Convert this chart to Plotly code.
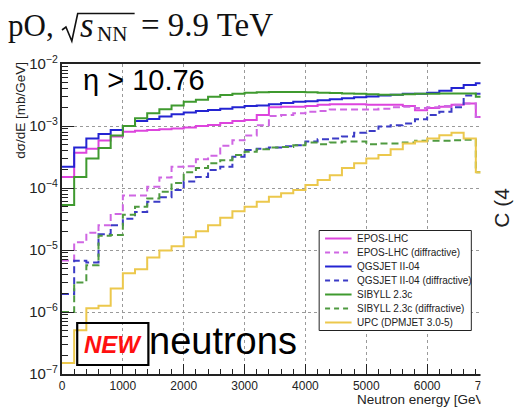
import plotly.graph_objects as go

# Neutron energy binning (GeV), 200 GeV bins
energy_edges = list(range(0, 7001, 200))

# dsigma/dE [mb/GeV] per bin
epos_lhc = [1.5e-4, 3.7e-4, 4.3e-4, 5.85e-4, 6.8e-4, 8.1e-4, 8.4e-4, 8.6e-4, 8.9e-4, 9.1e-4,
            9.5e-4, 1.0e-3, 1.04e-3, 1.12e-3, 1.2e-3, 1.25e-3, 1.5e-3, 2.0e-3, 2.05e-3, 2.05e-3,
            2.1e-3, 2.2e-3, 2.25e-3, 2.25e-3, 2.25e-3, 2.2e-3, 2.2e-3, 2.2e-3, 2.1e-3, 1.8e-3,
            1.95e-3, 2.05e-3, 2.2e-3, 2.3e-3, 1.4e-3]
epos_lhc_diff = [6.8e-6, 1.33e-5, 1.9e-5, 2.5e-5, 3.8e-5, 7.6e-5, 7.6e-5, 1.05e-4, 1.48e-4, 2.2e-4,
                 2.25e-4, 2.9e-4, 3.3e-4, 4.8e-4, 5.9e-4, 7.0e-4, 1.03e-3, 1.45e-3, 1.5e-3, 1.6e-3,
                 1.7e-3, 1.75e-3, 1.85e-3, 1.85e-3, 1.85e-3, 1.85e-3, 1.9e-3, 2.0e-3, 2.05e-3, 1.95e-3,
                 2.0e-3, 2.1e-3, 2.2e-3, 2.3e-3, 1.4e-3]
qgsjet = [2.2e-4, 4.5e-4, 6.3e-4, 7.4e-4, 8.6e-4, 1.0e-3, 1.2e-3, 1.3e-3, 1.42e-3, 1.55e-3,
          1.65e-3, 1.75e-3, 1.82e-3, 1.9e-3, 2.0e-3, 2.1e-3, 2.15e-3, 2.25e-3, 2.35e-3, 2.45e-3,
          2.5e-3, 2.6e-3, 2.7e-3, 2.8e-3, 2.9e-3, 3.0e-3, 3.1e-3, 3.2e-3, 3.3e-3, 3.3e-3,
          3.45e-3, 3.7e-3, 4.1e-3, 4.6e-3, 4.9e-3]
qgsjet_diff = [1.95e-6, 6.7e-6, 6.3e-6, 1.8e-5, 2.5e-5, 3.2e-5, 4.1e-5, 6.0e-5, 7.1e-5, 9.3e-5,
               1.27e-4, 1.5e-4, 1.95e-4, 2.2e-4, 3.2e-4, 4.1e-4, 4.3e-4, 4.5e-4, 4.7e-4, 4.9e-4,
               5.6e-4, 6.1e-4, 6.3e-4, 6.8e-4, 7.8e-4, 8.3e-4, 9.8e-4, 1.03e-3, 1.1e-3, 1.28e-3,
               1.5e-3, 1.7e-3, 2.0e-3, 3.1e-3, 3.3e-3]
sibyll = [5.3e-5, 1.5e-4, 3.0e-4, 4.4e-4, 7.0e-4, 1.0e-3, 1.33e-3, 1.6e-3, 1.86e-3, 2.15e-3,
          2.45e-3, 2.65e-3, 2.95e-3, 3.15e-3, 3.3e-3, 3.45e-3, 3.5e-3, 3.55e-3, 3.55e-3, 3.55e-3,
          3.5e-3, 3.45e-3, 3.4e-3, 3.35e-3, 3.3e-3, 3.25e-3, 3.2e-3, 3.2e-3, 3.25e-3, 3.3e-3,
          3.3e-3, 3.35e-3, 3.35e-3, 3.35e-3, 2.95e-3]
sibyll_diff = [1.0e-6, 3.0e-6, 5.7e-6, 1.7e-5, 1.75e-5, 3.7e-5, 5.0e-5, 6.8e-5, 8.7e-5, 1.2e-4,
               1.8e-4, 2.1e-4, 2.5e-4, 2.8e-4, 3.4e-4, 3.85e-4, 4.2e-4, 4.5e-4, 4.6e-4, 4.9e-4,
               5.4e-4, 5.1e-4, 5.4e-4, 5.6e-4, 5.6e-4, 5.1e-4, 5.2e-4, 5.2e-4, 5.4e-4, 5.8e-4,
               5.8e-4, 5.8e-4, 5.9e-4, 6.0e-4, 1.8e-4]
upc_dpmjet = [1.5e-7, 5.1e-7, 1.15e-6, 1.26e-6, 2.4e-6, 4.2e-6, 4.9e-6, 7.6e-6, 9.8e-6, 1.15e-5,
              1.6e-5, 2.0e-5, 2.5e-5, 3.3e-5, 4.2e-5, 5.0e-5, 6.0e-5, 7.2e-5, 8.2e-5, 9.3e-5,
              1.12e-4, 1.35e-4, 1.6e-4, 2.1e-4, 2.5e-4, 3.0e-4, 3.4e-4, 4.2e-4, 5.2e-4, 5.6e-4,
              6.3e-4, 7.1e-4, 7.8e-4, 6.3e-4, 1.8e-4]

series_names = ["EPOS-LHC", "EPOS-LHC (diffractive)", "QGSJET II-04", "QGSJET II-04 (diffractive)",
                "SIBYLL 2.3c", "SIBYLL 2.3c (diffractive)", "UPC (DPMJET 3.0-5)"]
series_values = [epos_lhc, epos_lhc_diff, qgsjet, qgsjet_diff, sibyll, sibyll_diff, upc_dpmjet]
series_colors = ["#dd44dd", "#cf66e3", "#2424d2", "#3b3bc6", "#3f9a2f", "#4f9a40", "#ecc84c"]
DASHED = "7px,4px"
series_dash = ["solid", DASHED, "solid", DASHED, "solid", DASHED, "solid"]

x_tick_vals = [0, 1000, 2000, 3000, 4000, 5000, 6000, 7000]

W, H = 514, 419
L, R, T, B = 62, 18, 64, 45
PW, PH = W - L - R, H - T - B


def px(x):
    return (x - L) / PW


def py(y):
    return (H - B - y) / PH


fig = go.Figure()
for name, vals, color, dash in zip(series_names, series_values, series_colors, series_dash):
    fig.add_trace(go.Scatter(
        x=energy_edges, y=vals + [vals[-1]], mode="lines", name=name,
        line=dict(color=color, width=2, dash=dash, shape="hv"),
        showlegend=False, hoverinfo="skip"))

FONT = "Liberation Sans, Arial, sans-serif"
SERIF = "Liberation Serif, Times New Roman, serif"

shapes = []
annotations = []

# legend box
shapes.append(dict(type="rect", xref="paper", yref="paper",
                   x0=px(324), x1=px(479), y0=py(330.5), y1=py(230.5),
                   fillcolor="white", line=dict(color="#222", width=1), layer="above"))
for i, (name, color, dash) in enumerate(zip(series_names, series_colors, series_dash)):
    yc = 238.5 + 14 * i
    shapes.append(dict(type="line", xref="paper", yref="paper",
                       x0=px(330), x1=px(357), y0=py(yc), y1=py(yc),
                       line=dict(color=color, width=2, dash="5px,4px" if dash != "solid" else "solid"),
                       layer="above"))
    annotations.append(dict(text=name, xref="paper", yref="paper", x=px(361), y=py(yc),
                            xanchor="left", yanchor="middle", showarrow=False,
                            font=dict(family=FONT, size=10, color="#222")))

# NEW box
shapes.append(dict(type="rect", xref="paper", yref="paper",
                   x0=px(77.5), x1=px(150), y0=py(365), y1=py(323),
                   line=dict(color="black", width=2.2), layer="above"))
annotations.append(dict(text="<b><i>NEW</i></b>", xref="paper", yref="paper", x=px(113.5), y=py(344),
                        xanchor="center", yanchor="middle", showarrow=False,
                        font=dict(family=FONT, size=24, color="#ff1010")))
annotations.append(dict(text="neutrons", xref="paper", yref="paper", x=px(149), y=py(341),
                        xanchor="left", yanchor="middle", showarrow=False,
                        font=dict(family=FONT, size=38, color="black")))
annotations.append(dict(text="η > 10.76", xref="paper", yref="paper", x=px(81), y=py(80),
                        xanchor="left", yanchor="middle", showarrow=False,
                        font=dict(family=FONT, size=29, color="black")))

# axis titles
annotations.append(dict(text="dσ/dE [mb/GeV]", xref="paper", yref="paper", x=px(19), y=py(110),
                        xanchor="center", yanchor="middle", textangle=-90, showarrow=False,
                        font=dict(family=FONT, size=13.5, color="#222")))
annotations.append(dict(text="Neutron energy [GeV]", xref="paper", yref="paper", x=px(361), y=py(399),
                        xanchor="left", yanchor="middle", showarrow=False,
                        font=dict(family=FONT, size=13.5, color="#222")))

# header: pO, sqrt(s_NN) = 9.9 TeV
annotations.append(dict(text="pO,", xref="paper", yref="paper", x=px(5), y=py(25),
                        xanchor="left", yanchor="middle", showarrow=False,
                        font=dict(family=SERIF, size=31, color="#111")))
shapes.append(dict(type="path", xref="paper", yref="paper",
                   path="M {},{} L {},{} L {},{} L {},{} L {},{}".format(
                       px(62), py(30), px(66), py(27), px(72), py(41), px(78), py(13.5), px(136), py(13.5)),
                   line=dict(color="#111", width=1.6), layer="above"))
annotations.append(dict(text="<i>s</i>", xref="paper", yref="paper", x=px(78), y=py(25),
                        xanchor="left", yanchor="middle", showarrow=False,
                        font=dict(family=SERIF, size=35, color="#111")))
annotations.append(dict(text="NN", xref="paper", yref="paper", x=px(96), y=py(34),
                        xanchor="left", yanchor="middle", showarrow=False,
                        font=dict(family=SERIF, size=21, color="#111")))
annotations.append(dict(text="= 9.9 TeV", xref="paper", yref="paper", x=px(140), y=py(25),
                        xanchor="left", yanchor="middle", showarrow=False,
                        font=dict(family=SERIF, size=33, color="#111")))

# white panel on the right edge, with the neighbouring slide text on it
annotations.append(dict(text=" ", xref="paper", yref="paper", x=px(488), y=py(H),
                        xanchor="left", yanchor="bottom", width=30, height=H, borderpad=0,
                        bgcolor="white", showarrow=False))
annotations.append(dict(text="C (4", xref="paper", yref="paper", x=px(509), y=py(208),
                        xanchor="center", yanchor="middle", textangle=-90, showarrow=False,
                        font=dict(family=FONT, size=21, color="#222")))

fig.update_layout(
    width=W, height=H,
    margin=dict(l=L, r=R, t=T, b=B, pad=0),
    paper_bgcolor="white", plot_bgcolor="white",
    showlegend=False,
    font=dict(family=FONT, size=12, color="#222"),
    xaxis=dict(range=[0, 7000], tickvals=x_tick_vals, ticks="inside", ticklen=10, tickwidth=1,
               tickcolor="#222", showline=True, linecolor="#222", linewidth=1.5, mirror=True,
               showgrid=True, gridcolor="#9a9a9a", griddash="dot", gridwidth=1, zeroline=False,
               tickfont=dict(size=12, color="#222"),
               minor=dict(ticks="inside", ticklen=5, dtick=200, tickcolor="#222", showgrid=False)),
    yaxis=dict(type="log", range=[-7, -2], dtick=1, exponentformat="power", ticks="inside",
               ticklen=12, tickwidth=1, tickcolor="#222", showline=True, linecolor="#222",
               linewidth=1.5, mirror=True, showgrid=True, gridcolor="#9a9a9a", griddash="dot",
               gridwidth=1, zeroline=False, tickfont=dict(size=12, color="#222"),
               minor=dict(ticks="inside", ticklen=6, dtick="D1", tickcolor="#222", showgrid=False)),
    shapes=shapes,
    annotations=annotations,
)

fig.write_html("out.html")
